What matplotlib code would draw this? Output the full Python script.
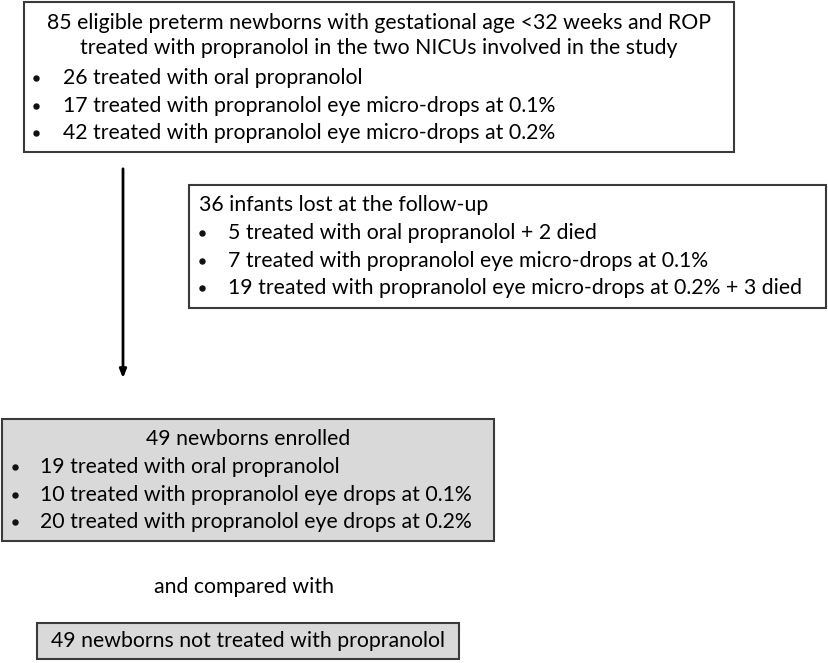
import matplotlib
matplotlib.use("Agg")
import matplotlib.pyplot as plt
from matplotlib.patches import Rectangle

plt.rcParams['font.family'] = ['Lato', 'DejaVu Sans']

# ── Flowchart text ───────────────────────────────────
ELIGIBLE_TITLE = ["85 eligible preterm newborns with gestational age <32 weeks and ROP",
                  "treated with propranolol in the two NICUs involved in the study"]
ELIGIBLE_ITEMS = ["26 treated with oral propranolol",
                  "17 treated with propranolol eye micro-drops at 0.1%",
                  "42 treated with propranolol eye micro-drops at 0.2%"]

LOST_TITLE = "36 infants lost at the follow-up"
LOST_ITEMS = ["5 treated with oral propranolol + 2 died",
              "7 treated with propranolol eye micro-drops at 0.1%",
              "19 treated with propranolol eye micro-drops at 0.2% + 3 died"]

ENROLLED_TITLE = "49 newborns enrolled"
ENROLLED_ITEMS = ["19 treated with oral propranolol",
                  "10 treated with propranolol eye drops at 0.1%",
                  "20 treated with propranolol eye drops at 0.2%"]

COMPARED_TEXT = "and compared with"
CONTROL_TEXT = "49 newborns not treated with propranolol"

FS = 15.3
EDGE = '#3a3a3a'
GRAY = '#d9d9d9'
LINE_H = 27.7


def box(ax, x0, y0, x1, y1, fill='white'):
    ax.add_patch(Rectangle((x0, y0), x1 - x0, y1 - y0, facecolor=fill,
                           edgecolor=EDGE, linewidth=1.5))


def bullets(ax, items, y, x_dot, x_text):
    for i, item in enumerate(items):
        yy = y + i * LINE_H
        # small round bullet, like the Office one
        ax.plot(x_dot, yy, 'o', color='#111111', markersize=3.6)
        ax.text(x_text, yy, item, fontsize=FS, va='center', ha='left')


fig = plt.figure(figsize=(8.29, 6.63), dpi=100)
ax = fig.add_axes([0, 0, 1, 1])
ax.set_xlim(0, 829)
ax.set_ylim(663, 0)
ax.axis('off')

# box 1 — eligible
box(ax, 24, 2, 734, 152)
for i, line in enumerate(ELIGIBLE_TITLE):
    ax.text(379, 23 + i * 25.5, line, fontsize=FS, ha='center', va='center')
bullets(ax, ELIGIBLE_ITEMS, 78, 36, 63)

# arrow down
ax.annotate("", xy=(123, 381), xytext=(123, 166),
            arrowprops=dict(arrowstyle='-|>,head_length=0.5,head_width=0.2',
                            color='black', lw=2))

# box 2 — lost at follow-up
box(ax, 189, 185, 826, 308)
ax.text(199, 205, LOST_TITLE, fontsize=FS, ha='left', va='center')
bullets(ax, LOST_ITEMS, 233, 202, 228)

# box 3 — enrolled
box(ax, 2, 419, 494, 541, fill=GRAY)
ax.text(248, 439, ENROLLED_TITLE, fontsize=FS, ha='center', va='center')
bullets(ax, ENROLLED_ITEMS, 467, 15, 40)

ax.text(244, 587, COMPARED_TEXT, fontsize=FS, ha='center', va='center')

# box 4 — controls
box(ax, 37, 623, 459, 659, fill=GRAY)
ax.text(248, 641, CONTROL_TEXT, fontsize=FS, ha='center', va='center')

fig.savefig('out.png', dpi=100)
